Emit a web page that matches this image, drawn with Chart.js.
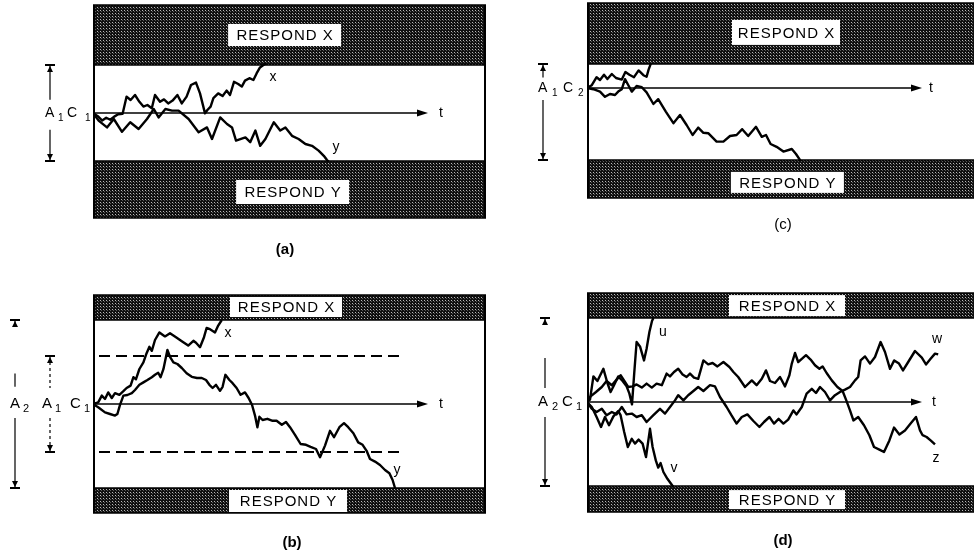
<!DOCTYPE html>
<html>
<head>
<meta charset="utf-8">
<script src="https://cdn.jsdelivr.net/npm/chart.js@4.4.1/dist/chart.umd.min.js"></script>
<style>
  html, body { margin: 0; padding: 0; background: #fff; }
  body { width: 974px; height: 556px; position: relative; overflow: hidden; }
  canvas { position: absolute; }
</style>
</head>
<body>
<canvas id="panelA" width="487" height="260" style="left:0;top:0"></canvas>
<canvas id="panelC" width="484" height="260" style="left:490px;top:0"></canvas>
<canvas id="panelB" width="487" height="296" style="left:0;top:260px"></canvas>
<canvas id="panelD" width="484" height="296" style="left:490px;top:260px"></canvas>
<script>
// Random-walk traces, [time, evidence] pairs.
// Evidence 0 is the starting point C; the response boundaries sit at +/-A.

// (a) criterion A1, start C1
const aWalkX = [[0,0],[1.2,-0.8],[2.3,-1.9],[3.3,-1.2],[4.3,-1.7],[5.3,-0.9],[6.3,-0.3],[7.4,-0.2],[8.4,4.1],[9.4,3.25],
  [10.5,4.5],[11.6,2.8],[12.6,1.6],[13.6,2],[14.7,1.2],[15.5,4.5],[16.75,2.8],[17.75,3.4],[18.8,2.4],[19.9,3.1],
  [21.1,4.5],[22.2,2.4],[23.4,4.1],[24.5,7],[25.75,7.6],[26.75,4.9],[28,-0.1],[28.6,0.75],[29.4,1.6],[30.1,3.7],
  [31.3,4.9],[32.4,4.25],[33.4,5.6],[34.25,4.5],[35.25,7.8],[36.3,7.25],[37.2,6.6],[38,8.1],[39.1,8.7],[40.1,8.25],
  [40.9,9.9],[41.75,11.4],[42.6,12],[43.2,12.4]];
const aWalkY = [[0,0],[1.4,-1.9],[3.5,-3.6],[5.2,-1.5],[7.25,-4.7],[9.3,-2.3],[11.4,-4],[13.5,-1.5],[15.2,1],[16.4,-1.1],
  [18.1,1],[19.75,0.6],[21.4,0.6],[23.9,-1.5],[26.4,-4.8],[28.5,-3.6],[29.75,-6.5],[31.8,-1.1],[33.5,-2.75],[34.75,-3.6],
  [35.75,-6.9],[38.1,-6.1],[39.3,-7.3],[40.6,-4.4],[41.8,-8.2],[43.1,-6.5],[45.2,-2.3],[46.8,-4.4],[48.1,-3.6],[49.75,-5.7],
  [51.4,-6.5],[53.1,-7.75],[54.75,-8.2],[56.4,-9.4],[57.7,-10.7],[58.5,-11.75],[58.9,-12.2]];

// (c) criterion A1, biased start C2
const cWalkX = [[0,0],[1.2,0.7],[2.4,2.7],[3.25,2],[4.25,3.3],[5.1,2.25],[6.2,3.5],[7.25,2.5],[8.7,2.1],[9.6,4],
  [10.6,3.3],[11.75,2.7],[12.9,4.4],[14.1,3.2],[14.9,2.8],[15.4,4.6],[16,6.2]];
const cWalkY = [[0,0],[1.6,-0.3],[3.25,-0.9],[4.5,-2.2],[5.75,-1.5],[7,-1.75],[7.8,-0.9],[8.7,-0.3],[9.5,2.2],[10.3,0.75],
  [11.2,-0.9],[12.4,0.5],[13.7,0.2],[14.9,-1.1],[16.6,-4],[17.8,-2.8],[19.7,-5.9],[21.6,-8.8],[23.25,-6.75],[24.9,-9.25],
  [26.4,-11.75],[27.8,-9.9],[29.1,-11.2],[30.3,-11.3],[32.4,-13.4],[34.1,-13.4],[35.75,-12],[37.4,-11.75],[38.8,-10.3],[40.3,-12],
  [42.25,-9.7],[43.7,-12.2],[44.75,-11.75],[45.9,-14],[47.4,-14.7],[49.1,-15.9],[51.2,-15.25],[52.25,-16.5],[53.4,-18.2]];

// (b) criterion A2, old criterion A1 shown dashed
const bWalkX = [[0,0],[1.3,0.4],[2.2,2.1],[3,1.25],[3.8,2.9],[4.7,1.5],[5.5,2.7],[6.6,2.3],[7.6,3.2],[8.4,4],
  [9.4,4.6],[10.1,6.7],[10.75,6.2],[11.6,8.75],[12.6,10.4],[13.4,12.7],[14.1,14.3],[14.7,13.3],[15.5,16],[16.6,17.9],
  [18,16.9],[19.25,17.7],[20.75,16.7],[22.2,15.7],[23.8,14.6],[25.1,15.8],[25.75,15.3],[26.75,14.2],[27.75,16.7],[28.4,19],
  [29.25,18.7],[30.5,17.9],[31.3,19.6],[32.2,21]];
const bWalkY = [[0,0],[1.3,-0.8],[3,-2.1],[4.25,-2.5],[5.5,-2.9],[6.1,-2.5],[6.75,-0.2],[7.6,2.1],[8.6,2.25],[9.7,2.7],
  [10.5,3.5],[11.6,4.8],[12.6,5.4],[13.6,6],[14.7,6.7],[15.5,7.3],[16.3,7.8],[16.9,6.7],[17.6,8.7],[18.6,13.5],
  [19.25,11.8],[20.1,10.4],[21.1,10],[22.2,9],[23.4,7.7],[24.7,6.8],[26,6.5],[27.2,6.5],[28.25,6],[29.1,4.8],
  [29.9,4],[30.75,4.8],[31.75,3.3],[32.4,4.3],[33.1,7.3],[34.1,6],[34.9,5.2],[35.9,4],[36.9,2.3],[38,2.9],
  [38.9,1.5],[39.75,-0.2],[40.5,-2.9],[41.1,-5.8],[41.6,-3.2],[42.4,-4],[43.6,-3.7],[44.9,-4.2],[45.9,-4.2],[47.2,-5.2],
  [48.25,-4.5],[49.25,-5.8],[50.5,-7.7],[51.9,-10],[53.25,-10.2],[54.4,-10.7],[55.75,-11.25],[56.75,-13.3],[58,-10.4],[59.25,-6.7],
  [60.25,-8.3],[61.6,-5.8],[62.75,-4.8],[63.8,-5.8],[65.1,-7.3],[66.3,-9.6],[67.4,-10.2],[68.4,-11.7],[69.25,-13.75],[70.5,-14.4],
  [71.75,-15.25],[73,-16.5],[74.1,-17.3],[74.9,-19],[75.5,-21]];
const bOldCriterion = [12, -12];
const bOldCriterionSpan = [1.5, 77.25];

// (d) criterion A2, start C1, four trials
const dWalkU = [[0,0],[0.75,0.6],[1.6,6.4],[2.6,5.25],[4.1,8.3],[5.1,4.75],[5.9,2.5],[6.75,4.2],[7.8,6.4],[8.9,5.25],
  [9.9,3.9],[10.6,2.1],[11.25,-0.6],[11.8,7.1],[12.4,15],[13.25,13.9],[14.25,10.4],[14.9,13.3],[15.6,17.5],[16.25,20.25],
  [16.6,21]];
const dWalkV = [[0,0],[1.2,-1.25],[2.4,-3.75],[3.5,-6.25],[4.5,-3.75],[5.5,-5.8],[6.6,-3.6],[7.8,-2.25],[8.4,-3.3],[9.3,-7.5],
  [10.2,-11.25],[11.2,-9.2],[12,-10.4],[12.9,-9.4],[13.9,-10.4],[14.75,-13.75],[15.75,-6.7],[16.4,-11.25],[17.2,-14.6],[17.8,-16.4],
  [18.4,-15.25],[19.1,-17.5],[20.1,-19.2],[21.6,-21.25]];
const dWalkW = [[0,0],[1.2,-1.7],[2.4,-2.5],[3.7,-1.7],[4.9,-3.3],[6.2,-2.5],[7.4,-3.1],[8.7,-1.25],[9.9,-3.1],[11.2,-2.9],
  [12.4,-3.75],[13.7,-3.3],[14.9,-5],[16.6,-3.3],[18.25,-1.7],[19.5,-2.9],[20.75,-1.25],[22,0.4],[22.8,1.7],[24.1,0.4],
  [25.3,1.7],[26.6,2.75],[27.8,3.75],[29.1,2.75],[30.75,4.2],[32,3.9],[33.25,1.25],[34.9,-1.25],[36.1,-3.3],[37.4,-5.4],
  [38.7,-3.75],[40.1,-3.1],[41.6,-4.75],[43.1,-6.25],[44.25,-5],[45.6,-3.75],[46.75,-5.4],[47.9,-4.2],[49.1,-5.4],[50.3,-4.4],
  [51.6,-2.1],[52.4,-3.1],[53.7,-1.25],[54.9,2.1],[56.2,3.3],[57.25,2.25],[58.25,3.75],[59.5,2.5],[60.75,0.4],[62,1.7],
  [63.25,2.5],[64.5,3.1],[65.75,3.75],[67,5.4],[67.8,6.25],[68.4,10.4],[69.5,11.4],[70.75,9.6],[72,11.25],[73.4,15],
  [74.5,12.5],[75.75,8.3],[76.8,10.4],[78,9.6],[79,7.9],[80.3,10],[82,12.75],[83.7,11.1],[84.75,9.4],[85.9,10.8],
  [87,12.1],[87.8,11.9]];
const dWalkZ = [[0,0],[0.9,1.4],[2.25,2.5],[3.7,3.75],[4.9,5.25],[6.2,4.2],[7.4,5.6],[8.4,6.7],[9.5,5],[10.3,3.75],
  [11.4,3.9],[12.4,4.4],[13.7,3.6],[14.9,4.6],[16.2,3.6],[17.4,4.6],[18.7,4.2],[19.9,7.1],[20.75,6.4],[21.75,7.5],
  [22.8,8.3],[23.9,6.9],[24.9,6.25],[25.75,7.1],[26.75,6.1],[27.8,5.8],[28.4,7.9],[29.1,10.4],[30.3,9.4],[31.4,9.75],
  [32.6,8.9],[34.1,10],[35.6,8.75],[36.6,7.5],[37.8,6.25],[39.5,3.75],[41.2,5.4],[42.4,4.2],[43.7,5.8],[44.75,7.9],
  [45.75,5.25],[47,4.75],[48.25,6.25],[49.5,3.9],[50.6,6.7],[51.2,9.6],[52,12.25],[52.8,10],[53.7,10.8],[54.75,11.7],
  [55.9,10.6],[57,9.2],[58.1,8.3],[58.9,8.9],[59.9,7.25],[61.2,5.4],[62.6,3.75],[63.9,2.75],[64.75,0.6],[65.75,-2.1],
  [66.6,-4.6],[67.8,-3.75],[69.25,-5.8],[70.6,-8.3],[71.75,-11.25],[73.1,-11.9],[74.25,-12.5],[75.6,-9.6],[76.75,-6.4],[78.1,-8.1],
  [79.5,-7.1],[80.9,-5.4],[82.25,-3.75],[83.25,-7.1],[83.9,-8.3],[84.9,-8.75],[85.9,-9.6],[87,-10.6]];

const FONT = '"Liberation Sans", Arial, Helvetica, sans-serif';

function shadePattern(ctx) {
  const c = document.createElement('canvas');
  c.width = 3; c.height = 3;
  const g = c.getContext('2d');
  g.fillStyle = '#101010'; g.fillRect(0, 0, 3, 3);
  g.fillStyle = '#b8b8b8'; g.fillRect(1, 1, 1, 1);
  g.fillStyle = '#5a5a5a'; g.fillRect(2, 2, 1, 1);
  return ctx.createPattern(c, 'repeat');
}

// Draws the shaded response regions, the time axis and all the annotation text.
const diagramPlugin = {
  id: 'diagram',
  beforeDatasetsDraw(chart, args, o) {
    const {ctx, chartArea: ca, scales: {x, y}} = chart;
    const yTop = y.getPixelForValue(o.upper);
    const yBot = y.getPixelForValue(o.lower);
    const y0 = y.getPixelForValue(0);
    const w = ca.right - ca.left;
    ctx.save();
    ctx.fillStyle = shadePattern(ctx);
    ctx.fillRect(ca.left, ca.top, w, yTop - ca.top);
    ctx.fillRect(ca.left, yBot, w, ca.bottom - yBot);

    ctx.strokeStyle = '#000';
    ctx.lineWidth = 1.5;
    ctx.beginPath();
    [ca.top, yTop, yBot, ca.bottom].forEach(py => {
      ctx.moveTo(ca.left, py);
      ctx.lineTo(ca.right, py);
    });
    ctx.stroke();
    ctx.lineWidth = 2;
    ctx.beginPath();
    ctx.moveTo(ca.left + 1, ca.top);
    ctx.lineTo(ca.left + 1, ca.bottom);
    if (o.closed) {
      ctx.moveTo(ca.right - 1, ca.top);
      ctx.lineTo(ca.right - 1, ca.bottom);
    }
    ctx.stroke();

    // time axis with arrow
    const xEnd = x.getPixelForValue(o.axisEnd);
    ctx.lineWidth = 1.5;
    ctx.beginPath();
    ctx.moveTo(ca.left, y0);
    ctx.lineTo(xEnd - 8, y0);
    ctx.stroke();
    ctx.fillStyle = '#000';
    ctx.beginPath();
    ctx.moveTo(xEnd, y0);
    ctx.lineTo(xEnd - 11, y0 - 3.5);
    ctx.lineTo(xEnd - 11, y0 + 3.5);
    ctx.closePath();
    ctx.fill();
    ctx.restore();
  },
  afterDatasetsDraw(chart, args, o) {
    const {ctx, scales: {x, y}} = chart;
    const y0 = y.getPixelForValue(0);
    ctx.save();
    ctx.textBaseline = 'middle';

    // RESPOND X / RESPOND Y labels
    ctx.font = '15px ' + FONT;
    ctx.letterSpacing = '1px';
    o.boxes.forEach(b => {
      const cx = x.getPixelForValue(b.t), cy = y.getPixelForValue(b.v);
      ctx.fillStyle = '#fff';
      ctx.fillRect(cx - b.w / 2, cy - b.h / 2, b.w, b.h);
      ctx.fillStyle = '#000';
      ctx.textAlign = 'center';
      ctx.fillText(b.text, cx + 0.5, cy + 1);
    });
    ctx.letterSpacing = '0px';

    // trace names and the "t" of the axis
    ctx.font = '14px ' + FONT;
    ctx.textAlign = 'center';
    o.tags.forEach(tg => {
      ctx.fillText(tg.text, x.getPixelForValue(tg.t), y.getPixelForValue(tg.v));
    });

    // criterion span markers on the left
    ctx.strokeStyle = '#000';
    ctx.fillStyle = '#000';
    o.dims.forEach(d => {
      const top = y.getPixelForValue(d.top), bot = y.getPixelForValue(d.bottom);
      ctx.lineWidth = 1.2;
      ctx.setLineDash(d.dash || []);
      ctx.beginPath();
      d.segs.forEach(([a, b]) => {
        ctx.moveTo(d.x, y.getPixelForValue(a));
        ctx.lineTo(d.x, y.getPixelForValue(b));
      });
      ctx.stroke();
      ctx.setLineDash([]);
      ctx.lineWidth = 2;
      ctx.beginPath();
      ctx.moveTo(d.x - 5, top); ctx.lineTo(d.x + 5, top);
      ctx.moveTo(d.x - 5, bot); ctx.lineTo(d.x + 5, bot);
      ctx.stroke();
      ctx.beginPath();
      ctx.moveTo(d.x, top + 1); ctx.lineTo(d.x - 3, top + 7); ctx.lineTo(d.x + 3, top + 7); ctx.closePath();
      ctx.moveTo(d.x, bot - 1); ctx.lineTo(d.x - 3, bot - 7); ctx.lineTo(d.x + 3, bot - 7); ctx.closePath();
      ctx.fill();
    });

    // A / C symbols with subscripts
    ctx.textAlign = 'left';
    o.symbols.forEach(s => {
      ctx.font = (s.sub ? o.subSize : o.symSize) + 'px ' + FONT;
      ctx.fillText(s.text, s.x, y0 + (s.sub ? 5 : 0));
    });

    // panel caption
    ctx.textAlign = 'center';
    ctx.font = (o.caption.bold ? 'bold ' : '') + '15px ' + FONT;
    ctx.fillText(o.caption.text, o.caption.x, o.caption.y);
    ctx.restore();
  }
};

function walkSet(points) {
  return {
    data: points.map(p => ({x: p[0], y: p[1]})),
    showLine: true,
    borderColor: '#000',
    borderWidth: 2.4,
    borderJoinStyle: 'round',
    pointRadius: 0,
    fill: false
  };
}

function criterionSet(level) {
  return {
    data: bOldCriterionSpan.map(t => ({x: t, y: level})),
    showLine: true,
    borderColor: '#000',
    borderWidth: 2,
    borderDash: [11, 6],
    pointRadius: 0,
    fill: false
  };
}

function drawPanel(id, datasets, scale, padding, diagram) {
  new Chart(document.getElementById(id), {
    type: 'scatter',
    data: {datasets: datasets},
    options: {
      responsive: false,
      animation: false,
      events: [],
      layout: {padding: padding},
      scales: {
        x: {type: 'linear', display: false, min: 0, max: scale.tMax},
        y: {type: 'linear', display: false, min: scale.vMin, max: scale.vMax}
      },
      plugins: {legend: {display: false}, tooltip: {enabled: false}, diagram: diagram}
    },
    plugins: [diagramPlugin]
  });
}

drawPanel('panelA', [walkSet(aWalkX), walkSet(aWalkY)],
  {tMax: 98.25, vMin: -26.25, vMax: 27},
  {left: 93, top: 5, right: 1, bottom: 42},
  {
    upper: 12, lower: -12, axisEnd: 83.75, closed: true,
    boxes: [{text: 'RESPOND X', t: 47.9, v: 19.5, w: 113, h: 22},
            {text: 'RESPOND Y', t: 49.9, v: -19.75, w: 113, h: 24}],
    tags: [{text: 'x', t: 45, v: 9}, {text: 'y', t: 60.75, v: -8.5}, {text: 't', t: 87, v: 0}],
    dims: [{x: 50, top: 12, bottom: -12, segs: [[12, 3.3], [-4.2, -12]]}],
    symSize: 14, subSize: 10,
    symbols: [{text: 'A', x: 45}, {text: '1', x: 58, sub: true}, {text: 'C', x: 67}, {text: '1', x: 85, sub: true}],
    caption: {text: '(a)', x: 285, y: 250, bold: true}
  });

drawPanel('panelC', [walkSet(cWalkX), walkSet(cWalkY)],
  {tMax: 96.75, vMin: -27.5, vMax: 21.25},
  {left: 97, top: 3, right: 0, bottom: 62},
  {
    upper: 6, lower: -18, axisEnd: 83.75, closed: false,
    boxes: [{text: 'RESPOND X', t: 49.75, v: 13.9, w: 108, h: 25},
            {text: 'RESPOND Y', t: 50.1, v: -23.6, w: 113, h: 21}],
    tags: [{text: 't', t: 86, v: 0}],
    dims: [{x: 53, top: 6, bottom: -18, segs: [[6, 2.6], [-3, -18]]}],
    symSize: 14, subSize: 10,
    symbols: [{text: 'A', x: 48}, {text: '1', x: 62, sub: true}, {text: 'C', x: 73}, {text: '2', x: 88, sub: true}],
    caption: {text: '(c)', x: 293, y: 225, bold: false}
  });

drawPanel('panelB', [walkSet(bWalkX), walkSet(bWalkY), criterionSet(bOldCriterion[0]), criterionSet(bOldCriterion[1])],
  {tMax: 98.25, vMin: -27.25, vMax: 27.25},
  {left: 93, top: 35, right: 1, bottom: 43},
  {
    upper: 21, lower: -21, axisEnd: 83.75, closed: true,
    boxes: [{text: 'RESPOND X', t: 48.25, v: 24.25, w: 112, h: 20},
            {text: 'RESPOND Y', t: 48.75, v: -24.25, w: 118, h: 22}],
    tags: [{text: 'x', t: 33.75, v: 17.75}, {text: 'y', t: 76, v: -16.5}, {text: 't', t: 87, v: 0}],
    dims: [{x: 15, top: 21, bottom: -21, segs: [[21, 19.5], [7.6, 4.3], [-3.5, -21]]},
           {x: 50, top: 12, bottom: -12, dash: [3, 3], segs: [[12, 4], [-3.5, -12]]}],
    symSize: 15, subSize: 11,
    symbols: [{text: 'A', x: 10}, {text: '2', x: 23, sub: true}, {text: 'A', x: 42}, {text: '1', x: 55, sub: true},
              {text: 'C', x: 70}, {text: '1', x: 84, sub: true}],
    caption: {text: '(b)', x: 292, y: 283, bold: true}
  });

drawPanel('panelD', [walkSet(dWalkU), walkSet(dWalkV), walkSet(dWalkW), walkSet(dWalkZ)],
  {tMax: 96.75, vMin: -27.5, vMax: 27.25},
  {left: 97, top: 33, right: 0, bottom: 44},
  {
    upper: 21, lower: -21, axisEnd: 83.75, closed: false,
    boxes: [{text: 'RESPOND X', t: 50, v: 24.1, w: 116, h: 21},
            {text: 'RESPOND Y', t: 50, v: -24.4, w: 116, h: 19}],
    tags: [{text: 'u', t: 19, v: 17.5}, {text: 'v', t: 21.75, v: -16.5}, {text: 'w', t: 87.5, v: 15.75},
           {text: 'z', t: 87.25, v: -14}, {text: 't', t: 86.75, v: 0}],
    dims: [{x: 55, top: 21, bottom: -21, segs: [[21, 19.5], [11, 3.5], [-3.75, -21]]}],
    symSize: 15, subSize: 11,
    symbols: [{text: 'A', x: 48}, {text: '2', x: 62, sub: true}, {text: 'C', x: 72}, {text: '1', x: 86, sub: true}],
    caption: {text: '(d)', x: 293, y: 281, bold: true}
  });
</script>
</body>
</html>
